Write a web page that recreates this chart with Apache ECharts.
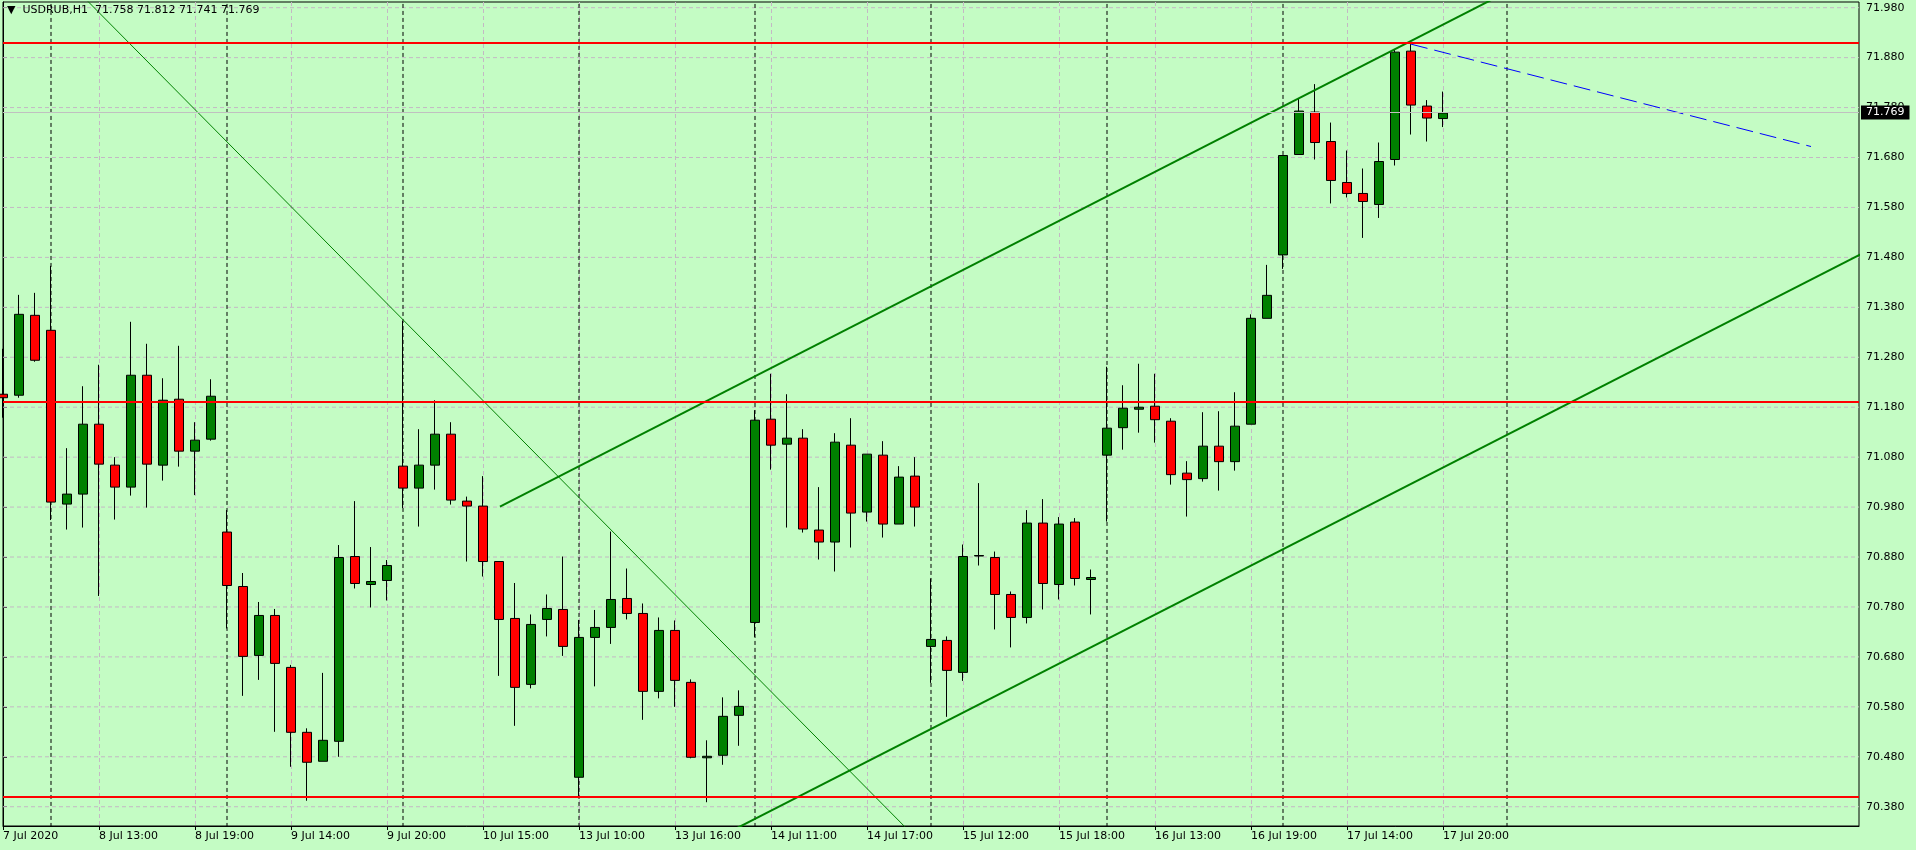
<!DOCTYPE html>
<html>
<head>
<meta charset="utf-8">
<script src="https://cdn.jsdelivr.net/npm/echarts@6/dist/echarts.min.js"></script>
<style>
html, body { margin: 0; padding: 0; background: #c4fcc4; }
#main { width: 1916px; height: 850px; }
</style>
</head>
<body>
<div id="main"></div>
<script>
// USDRUB H1, bar 0 = 7 Jul 18:00, one trading day = 11 bars (10:00-20:00)
// open, high, low, close
var bars = [
  [71.206, 71.297, 71.159, 71.199],
  [71.204, 71.405, 71.199, 71.366],
  [71.364, 71.409, 71.271, 71.274],
  [71.334, 71.463, 70.954, 70.990],
  [70.986, 71.098, 70.935, 71.006],
  [71.006, 71.222, 70.939, 71.146],
  [71.146, 71.265, 70.802, 71.066],
  [71.064, 71.080, 70.955, 71.020],
  [71.020, 71.351, 71.003, 71.244],
  [71.244, 71.307, 70.979, 71.066],
  [71.064, 71.238, 71.033, 71.194],
  [71.196, 71.303, 71.061, 71.092],
  [71.092, 71.150, 71.004, 71.114],
  [71.116, 71.236, 71.113, 71.202],
  [70.930, 70.974, 70.737, 70.823],
  [70.821, 70.848, 70.602, 70.681],
  [70.683, 70.790, 70.634, 70.763],
  [70.763, 70.776, 70.530, 70.667],
  [70.659, 70.664, 70.460, 70.529],
  [70.529, 70.537, 70.392, 70.469],
  [70.471, 70.648, 70.471, 70.513],
  [70.511, 70.904, 70.480, 70.879],
  [70.881, 70.992, 70.817, 70.827],
  [70.825, 70.900, 70.779, 70.831],
  [70.833, 70.874, 70.793, 70.863],
  [71.062, 71.353, 70.978, 71.018],
  [71.018, 71.136, 70.941, 71.064],
  [71.064, 71.194, 71.015, 71.126],
  [71.126, 71.150, 70.985, 70.994],
  [70.992, 71.001, 70.871, 70.982],
  [70.982, 71.042, 70.841, 70.871],
  [70.871, 70.871, 70.642, 70.755],
  [70.757, 70.828, 70.542, 70.619],
  [70.625, 70.765, 70.617, 70.745],
  [70.755, 70.805, 70.721, 70.777],
  [70.775, 70.881, 70.682, 70.701],
  [70.439, 70.754, 70.400, 70.719],
  [70.719, 70.774, 70.621, 70.739],
  [70.739, 70.931, 70.706, 70.795],
  [70.797, 70.857, 70.755, 70.767],
  [70.767, 70.787, 70.554, 70.611],
  [70.611, 70.759, 70.597, 70.733],
  [70.733, 70.753, 70.580, 70.633],
  [70.629, 70.635, 70.477, 70.479],
  [70.478, 70.513, 70.389, 70.481],
  [70.483, 70.599, 70.464, 70.561],
  [70.563, 70.613, 70.502, 70.581],
  [70.749, 71.174, 70.720, 71.154],
  [71.156, 71.247, 71.055, 71.104],
  [71.106, 71.206, 70.939, 71.118],
  [71.118, 71.136, 70.929, 70.936],
  [70.934, 71.020, 70.875, 70.910],
  [70.910, 71.128, 70.851, 71.110],
  [71.104, 71.158, 70.899, 70.968],
  [70.970, 71.086, 70.951, 71.086],
  [71.084, 71.112, 70.919, 70.946],
  [70.946, 71.062, 70.946, 71.040],
  [71.042, 71.080, 70.941, 70.980],
  [70.701, 70.837, 70.628, 70.715],
  [70.713, 70.721, 70.560, 70.653],
  [70.649, 70.905, 70.632, 70.881],
  [70.882, 71.028, 70.863, 70.883],
  [70.879, 70.891, 70.735, 70.805],
  [70.805, 70.811, 70.699, 70.759],
  [70.759, 70.974, 70.747, 70.948],
  [70.948, 70.996, 70.775, 70.827],
  [70.825, 70.960, 70.795, 70.946],
  [70.950, 70.958, 70.823, 70.837],
  [70.835, 70.855, 70.765, 70.839],
  [71.084, 71.261, 70.951, 71.138],
  [71.139, 71.224, 71.095, 71.178],
  [71.176, 71.267, 71.129, 71.180],
  [71.182, 71.247, 71.109, 71.155],
  [71.152, 71.158, 71.025, 71.045],
  [71.048, 71.072, 70.961, 71.035],
  [71.037, 71.170, 71.031, 71.102],
  [71.102, 71.172, 71.013, 71.071],
  [71.071, 71.210, 71.053, 71.142],
  [71.146, 71.366, 71.146, 71.358],
  [71.358, 71.465, 71.358, 71.404],
  [71.485, 71.684, 71.457, 71.684],
  [71.686, 71.798, 71.686, 71.773],
  [71.771, 71.827, 71.676, 71.710],
  [71.712, 71.750, 71.588, 71.634],
  [71.630, 71.694, 71.600, 71.608],
  [71.608, 71.658, 71.519, 71.592],
  [71.586, 71.710, 71.559, 71.672],
  [71.676, 71.897, 71.664, 71.891],
  [71.893, 71.907, 71.726, 71.785],
  [71.783, 71.795, 71.712, 71.759],
  [71.758, 71.812, 71.741, 71.769]
];

var timeLabels = ["7 Jul 2020", "8 Jul 13:00", "8 Jul 19:00", "9 Jul 14:00", "9 Jul 20:00",
  "10 Jul 15:00", "13 Jul 10:00", "13 Jul 16:00", "14 Jul 11:00", "14 Jul 17:00",
  "15 Jul 12:00", "15 Jul 18:00", "16 Jul 13:00", "16 Jul 19:00", "17 Jul 14:00", "17 Jul 20:00"];
var labelStep = 6;
var priceTicks = [70.38, 70.48, 70.58, 70.68, 70.78, 70.88, 70.98, 71.08, 71.18,
  71.28, 71.38, 71.48, 71.58, 71.68, 71.78, 71.88, 71.98];
var daySeps = [3, 14, 25, 36, 47, 58, 69, 80, 94];
var levels = [71.914, 71.187, 70.404];
var lastPrice = 71.769;
var header = "USDRUB,H1  71.758 71.812 71.741 71.769";

// trend objects: [bar index, price]
var downLine = [[4, 72.035], [58, 70.287]];
var chanTop = [[31.06, 70.981], [95, 72.028]];
var chanBottom = [[45, 70.323], [118, 71.517]];
var blueLine = [[88, 71.907], [113, 71.702]];

var yMin = 70.3414, yMax = 71.9914, xMax = 116;
var FONT = "DejaVu Sans";
var gridGray = "#c4b8c4";

var chart = echarts.init(document.getElementById("main"));

var series = [];

priceTicks.forEach(function (v) {
  series.push({
    type: "line", silent: true, z: 1, symbol: "none", animation: false,
    data: [[0, v], [xMax, v]],
    lineStyle: { color: gridGray, width: 1, type: [4, 3] }
  });
});

daySeps.forEach(function (s) {
  series.push({
    type: "line", silent: true, z: 1, symbol: "none", animation: false,
    data: [[s, yMin - 0.1], [s, yMax + 0.1]],
    lineStyle: { color: "#000", width: 1, type: [4, 3] }
  });
});

series.push({
  type: "candlestick",
  z: 2,
  barWidth: 10,
  animation: false,
  data: bars.map(function (b, i) { return [i, b[0], b[3], b[2], b[1]]; }),
  itemStyle: {
    color: "#008000", color0: "#ff0000",
    borderColor: "#000", borderColor0: "#000", borderWidth: 1
  },
  markLine: {
    silent: true, symbol: "none", animation: false,
    data: [{
      yAxis: lastPrice,
      lineStyle: { color: "#c0c0c0", width: 1, type: "solid" },
      label: {
        show: true, position: "end", distance: 2,
        formatter: lastPrice.toFixed(3),
        backgroundColor: "#000", color: "#fff",
        padding: [2, 5, 1, 5], fontFamily: FONT, fontSize: 11
      }
    }].concat(levels.map(function (v) {
      return { yAxis: v, lineStyle: { color: "#ff0000", width: 2, type: "solid" }, label: { show: false } };
    }))
  }
});

function trend(pts, color, width, type) {
  return {
    type: "line", silent: true, z: 4, symbol: "none", animation: false,
    data: pts, lineStyle: { color: color, width: width, type: type }
  };
}
series.push(trend(downLine, "#008000", 1, "solid"));
series.push(trend(chanTop, "#008000", 2, "solid"));
series.push(trend(chanBottom, "#008000", 2, "solid"));
series.push(trend(blueLine, "#0000ff", 1, [17, 7]));

var labelPos = timeLabels.map(function (_, k) { return k * labelStep; });

var option = {
  backgroundColor: "#c4fcc4",
  animation: false,
  title: {
    text: "▼  " + header,
    left: 7, top: 5, padding: 0,
    textStyle: { fontFamily: FONT, fontSize: 11, fontWeight: "normal", color: "#000" }
  },
  grid: {
    left: 3, right: 57, top: 2, bottom: 24,
    show: true, borderColor: "#000", borderWidth: 1,
    containLabel: false, outerBoundsMode: "none"
  },
  xAxis: {
    type: "value", min: 0, max: xMax, interval: 3,
    axisLine: { show: true, onZero: false, lineStyle: { color: "#000" } },
    axisTick: { show: true, length: 4, customValues: labelPos, lineStyle: { color: "#000" } },
    axisLabel: {
      customValues: labelPos, align: "left", margin: 5,
      fontFamily: FONT, fontSize: 11, color: "#000",
      formatter: function (v) {
        var k = Math.round(v / labelStep);
        return (v % labelStep === 0 && k < timeLabels.length) ? timeLabels[k] : "";
      }
    },
    splitLine: { show: true, lineStyle: { color: gridGray, width: 1, type: [4, 3] } }
  },
  yAxis: {
    type: "value", position: "right", min: yMin, max: yMax, scale: true,
    axisLine: { show: true, lineStyle: { color: "#000" } },
    axisTick: { show: true, length: 4, customValues: priceTicks, lineStyle: { color: "#000" } },
    axisLabel: {
      customValues: priceTicks, margin: 7,
      fontFamily: FONT, fontSize: 11, color: "#000",
      formatter: function (v) { return v.toFixed(3); }
    },
    splitLine: { show: false }
  },
  series: series
};

chart.setOption(option);
</script>
</body>
</html>
